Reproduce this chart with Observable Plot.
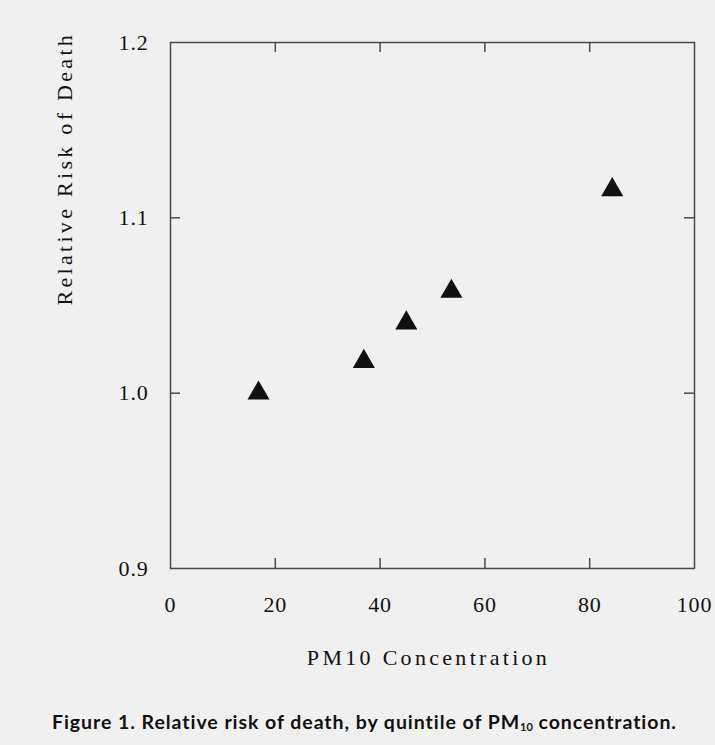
<!DOCTYPE html>
<html>
<head>
<meta charset="utf-8">
<script src="https://cdn.jsdelivr.net/npm/d3@7"></script>
<script src="https://cdn.jsdelivr.net/npm/@observablehq/plot@0.6"></script>
<style>
  html, body { margin: 0; padding: 0; background: #f0f0f0; }
  #wrap { position: relative; width: 715px; height: 745px; overflow: hidden; }
  #caption { position: absolute; left: 52px; top: 710px; font-family: Lato, "Open Sans", sans-serif; font-weight: 700; font-size: 19.5px; letter-spacing: 0.95px; color: #111; white-space: nowrap; }
  #caption sub { font-size: 11px; vertical-align: -2px; letter-spacing: 0; }
</style>
</head>
<body>
<div id="wrap">
  <div id="chart"></div>
  <div id="caption">Figure 1. Relative risk of death, by quintile of PM<sub>10</sub> concentration.</div>
</div>
<script>
// Data (PM10 quintile mean concentration vs relative risk)
const pm10 = [16.8, 36.9, 45.0, 53.6, 84.3];
const relativeRisk = [1.000, 1.018, 1.040, 1.058, 1.116];

// Axis ticks
const xTicks = [0, 20, 40, 60, 80, 100];
const yTicks = [0.9, 1.0, 1.1, 1.2];
const xDomain = [0, 100];
const yDomain = [0.9, 1.2];

const xLabel = "PM10 Concentration";
const yLabel = "Relative Risk of Death";

const data = pm10.map((x, i) => ({x, y: relativeRisk[i]}));
const xInner = xTicks.filter(t => t > xDomain[0] && t < xDomain[1]);
const yInner = yTicks.filter(t => t > yDomain[0] && t < yDomain[1]);

const W = 715, H = 680, mL = 170, mR = 21, mT = 42, mB = 112;
const plotW = W - mL - mR, plotH = H - mT - mB;
const tickLen = 10;
const axisColor = "#4a4a4a";
const textColor = "#111";

const chart = Plot.plot({
  width: W,
  height: H,
  marginLeft: mL,
  marginRight: mR,
  marginTop: mT,
  marginBottom: mB,
  style: {background: "transparent", fontFamily: "'Liberation Serif', serif", color: textColor},
  x: {domain: xDomain, axis: null},
  y: {domain: yDomain, axis: null},
  marks: [
    Plot.frame({stroke: axisColor, strokeWidth: 1.5}),
    Plot.tickX(xInner, {x: d => d, insetTop: plotH - tickLen, stroke: axisColor, strokeWidth: 1.5}),
    Plot.tickX(xInner, {x: d => d, insetBottom: plotH - tickLen, stroke: axisColor, strokeWidth: 1.5}),
    Plot.tickY(yInner, {y: d => d, insetRight: plotW - tickLen, stroke: axisColor, strokeWidth: 1.5}),
    Plot.tickY(yInner, {y: d => d, insetLeft: plotW - tickLen, stroke: axisColor, strokeWidth: 1.5}),
    Plot.text(xTicks, {x: d => d, text: d => String(d), frameAnchor: "bottom", dy: 36, fontSize: 22, lineAnchor: "middle", fill: textColor}),
    Plot.text(yTicks, {y: d => d, text: d => d.toFixed(1), frameAnchor: "left", dx: -22, textAnchor: "end", fontSize: 22, lineAnchor: "middle", fill: textColor}),
    Plot.text([xLabel], {text: d => d, frameAnchor: "bottom", dy: 89, dx: -4, fontSize: 22, lineAnchor: "middle", fill: textColor}),
    Plot.text([yLabel], {text: d => d, frameAnchor: "left", dx: -106, rotate: -90, fontSize: 22, lineAnchor: "middle", fill: textColor}),
    Plot.dot(data, {x: "x", y: "y", symbol: "triangle", r: 8.2, fill: "#111", stroke: "none"})
  ]
});

// Letter spacing to match the typeset look of the original
const spacedTexts = new Set([xLabel, yLabel]);
d3.select(chart).selectAll("text").each(function() {
  const t = this.textContent;
  if (spacedTexts.has(t)) this.style.letterSpacing = "3.3px";
  else this.style.letterSpacing = "0.8px";
});
document.getElementById("chart").appendChild(chart);
</script>
</body>
</html>
